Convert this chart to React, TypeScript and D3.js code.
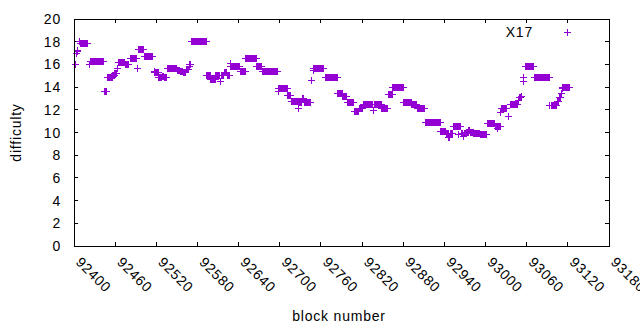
import React from "react";
import * as d3 from "d3";

// runs of blocks with the same difficulty: [first block, last block, difficulty]
const runs: [number, number, number][] = [
  [92401, 92401, 16.0], [92403, 92403, 17.0], [92404, 92404, 17.2], [92405, 92405, 17.3],
  [92407, 92407, 18.1], [92409, 92419, 17.9], [92422, 92422, 16.0], [92423, 92442, 16.3],
  [92444, 92447, 13.7], [92448, 92455, 14.9], [92456, 92458, 15.1], [92459, 92461, 15.2],
  [92463, 92463, 15.7], [92464, 92473, 16.2], [92474, 92479, 16.0], [92481, 92491, 16.6],
  [92492, 92492, 15.7], [92494, 92501, 17.35], [92502, 92514, 16.7], [92516, 92516, 15.4],
  [92517, 92522, 15.3], [92523, 92527, 14.9], [92528, 92530, 15.0], [92531, 92534, 14.85],
  [92535, 92549, 15.65], [92550, 92553, 15.5], [92554, 92558, 15.4], [92559, 92562, 15.3],
  [92563, 92566, 15.6], [92567, 92567, 15.9], [92568, 92569, 16.0], [92571, 92592, 18.1],
  [92593, 92598, 15.05], [92599, 92605, 14.75], [92606, 92612, 15.1], [92613, 92613, 14.5],
  [92615, 92617, 15.05], [92618, 92622, 15.35], [92623, 92626, 15.05], [92627, 92627, 16.1],
  [92628, 92641, 15.9], [92642, 92649, 15.4], [92650, 92665, 16.6], [92666, 92673, 15.85],
  [92674, 92696, 15.4], [92697, 92697, 13.7], [92698, 92710, 13.9], [92711, 92715, 13.3],
  [92716, 92726, 12.75], [92727, 92727, 12.2], [92728, 92731, 12.7], [92732, 92734, 13.0],
  [92735, 92744, 12.65], [92746, 92746, 14.6], [92748, 92748, 15.5], [92749, 92763, 15.65],
  [92766, 92783, 14.85], [92784, 92790, 13.5], [92791, 92797, 13.25], [92798, 92807, 12.7],
  [92808, 92814, 11.9], [92815, 92820, 12.15], [92821, 92835, 12.5], [92836, 92836, 12.0],
  [92837, 92847, 12.5], [92848, 92857, 12.2], [92858, 92863, 13.4], [92864, 92879, 14.0],
  [92880, 92891, 12.65], [92892, 92899, 12.5], [92900, 92911, 12.2], [92912, 92933, 10.9],
  [92934, 92941, 10.15], [92942, 92945, 9.95], [92946, 92947, 9.6], [92948, 92951, 9.95],
  [92953, 92963, 10.55], [92960, 92960, 9.9], [92964, 92966, 9.95], [92967, 92967, 9.7],
  [92968, 92971, 9.95], [92972, 92974, 10.05], [92975, 92976, 10.2], [92977, 92981, 10.05],
  [92982, 92991, 10.0], [92992, 93001, 9.85], [93002, 93013, 10.85], [93014, 93021, 10.6],
  [93016, 93016, 10.4], [93021, 93021, 11.85], [93022, 93030, 12.15], [93033, 93033, 11.45],
  [93035, 93046, 12.55], [93047, 93048, 12.85], [93049, 93050, 13.1], [93051, 93051, 13.25],
  [93054, 93054, 14.5], [93055, 93055, 14.85], [93058, 93069, 15.85], [93070, 93093, 14.85],
  [93093, 93093, 12.4], [93095, 93103, 12.4], [93104, 93106, 12.75], [93107, 93109, 13.15],
  [93110, 93110, 13.5], [93111, 93111, 13.9], [93112, 93121, 14.0],
];

const xTicks = [92400, 92460, 92520, 92580, 92640, 92700, 92760, 92820, 92880, 92940, 93000, 93060, 93120, 93180];
const yTicks = [0, 2, 4, 6, 8, 10, 12, 14, 16, 18, 20];
const seriesName = "X17";

const W = 640, H = 330;
const left = 74, right = 609, top = 19, bottom = 246;
const color = "#9400d3";
const font = "'Liberation Sans', Arial, sans-serif";

const x = d3.scaleLinear().domain([92400, 93180]).range([left, right]);
const y = d3.scaleLinear().domain([0, 20]).range([bottom, top]);

// one point per block
const points: { block: number; diff: number }[] = [];
runs.forEach(([a, b, v]) => {
  for (let k = a; k <= b; k++) points.push({ block: k, diff: v });
});

function plus(cx: number, cy: number, r: number) {
  const px = Math.round(cx) + 0.5, py = Math.round(cy) + 0.5;
  return `M${px - r},${py}h${2 * r}M${px},${py - r}v${2 * r}`;
}

export default function App() {
  const d = points.map(p => plus(x(p.block), y(p.diff), 3.5)).join("");
  const tick = 4;
  return (
    <svg width={W} height={H} style={{ position: "absolute", left: 0, top: 0, background: "#fff" }}
      fontFamily={font} fontSize={14} letterSpacing={0.8}>
      <rect x={0} y={0} width={W} height={H} fill="#fff" />
      {/* ticks */}
      <g stroke="#000" strokeWidth={1} shapeRendering="crispEdges">
        {xTicks.map(t => (
          <g key={"x" + t}>
            <line x1={x(t)} x2={x(t)} y1={bottom} y2={bottom - tick} />
            <line x1={x(t)} x2={x(t)} y1={top} y2={top + tick} />
          </g>
        ))}
        {yTicks.map(t => (
          <g key={"y" + t}>
            <line x1={left} x2={left + tick} y1={y(t)} y2={y(t)} />
            <line x1={right} x2={right - tick} y1={y(t)} y2={y(t)} />
          </g>
        ))}
      </g>
      {/* y labels */}
      {yTicks.map(t => (
        <text key={"yl" + t} x={61} y={y(t)} dy="0.36em" textAnchor="end" fill="#000">{t}</text>
      ))}
      {/* x labels */}
      {xTicks.map(t => (
        <text key={"xl" + t} transform={`translate(${x(t) + 1},263) rotate(45)`} textAnchor="start" fill="#000">{t}</text>
      ))}
      <text x={339} y={321} textAnchor="middle" fill="#000">block number</text>
      <text transform={`translate(21,${(top + bottom) / 2}) rotate(-90)`} textAnchor="middle" fill="#000">difficulty</text>
      {/* data */}
      <path d={d} stroke={color} strokeWidth={1} fill="none" shapeRendering="crispEdges" />
      {/* legend */}
      <text x={533} y={32} dy="0.36em" textAnchor="end" fill="#000">{seriesName}</text>
      <path d={plus(567, 32, 3.5)} stroke={color} strokeWidth={1} fill="none" shapeRendering="crispEdges" />
      {/* border */}
      <rect x={left + 0.5} y={top + 0.5} width={right - left} height={bottom - top} fill="none" stroke="#000" strokeWidth={1} shapeRendering="crispEdges" />
    </svg>
  );
}
